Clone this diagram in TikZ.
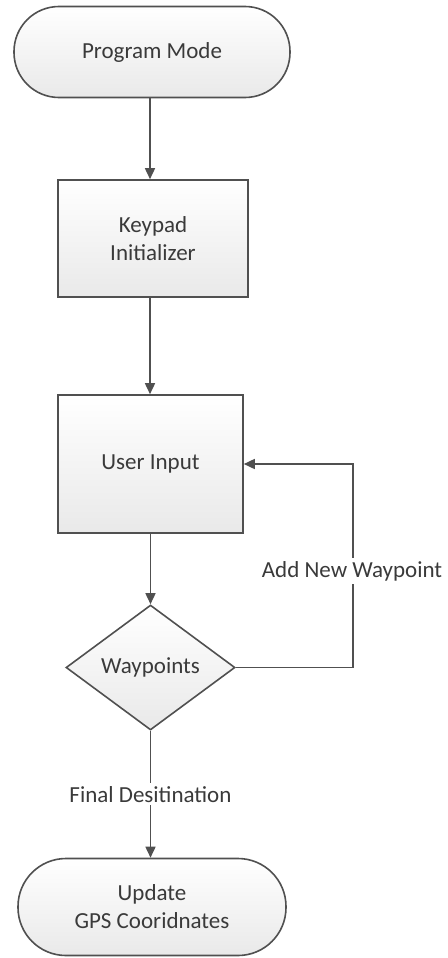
\documentclass[tikz,border=0pt]{standalone}
\usepackage{fontspec}
\setmainfont{Carlito}
\usetikzlibrary{shapes.geometric,arrows.meta}
\definecolor{edge}{HTML}{505050}
\definecolor{ink}{HTML}{3A3A3A}
\definecolor{fillbot}{HTML}{E9E9E9}
\begin{document}
\begin{tikzpicture}[x=1pt,y=-1pt,
  every node/.style={text=ink,font=\fontsize{23}{28}\selectfont,align=center},
  block/.style={draw=edge,line width=1.6pt,top color=white,bottom color=fillbot,inner sep=0pt},
  terminal/.style={block,rounded corners=#1},
  procbox/.style={block},
  decision/.style={block,diamond},
  arr/.style={draw=edge,line width=1.6pt,-{Triangle[length=11pt,width=10pt]}},
  lbl/.style={fill=white,inner sep=3pt}]
\useasboundingbox (0,0) rectangle (447,958);

\node[terminal=45pt,minimum width=276pt,minimum height=91pt] (pm) at (152,52) {Program Mode};
\node[procbox,minimum width=190pt,minimum height=117pt] (kp) at (153,238.5) {Keypad\\Initializer};
\node[procbox,minimum width=185pt,minimum height=138pt] (ui) at (150.5,464) {User Input};
\node[decision,minimum width=169pt,minimum height=125pt] (dm) at (150.5,667.5) {Waypoints};
\node[terminal=48pt,minimum width=268pt,minimum height=97pt] (gps) at (152,907) {Update\\GPS Cooridnates};

\coordinate (fb) at (353,464);

\draw[arr] (pm.south -| 150,0) -- (kp.north -| 150,0);
\draw[arr] (kp.south -| 150,0) -- (ui.north -| 150,0);
\draw[arr] (ui.south -| dm.north) -- (dm.north);
\draw[arr] (dm.south) -- (dm.south |- gps.north)
  node[lbl,pos=0.5] (fd) {Final Desitination};
\draw[arr] (dm.east) -| (fb) -- (ui.east);
\node[lbl] (nw) at (352,571) {Add New Waypoint};
\end{tikzpicture}
\end{document}
